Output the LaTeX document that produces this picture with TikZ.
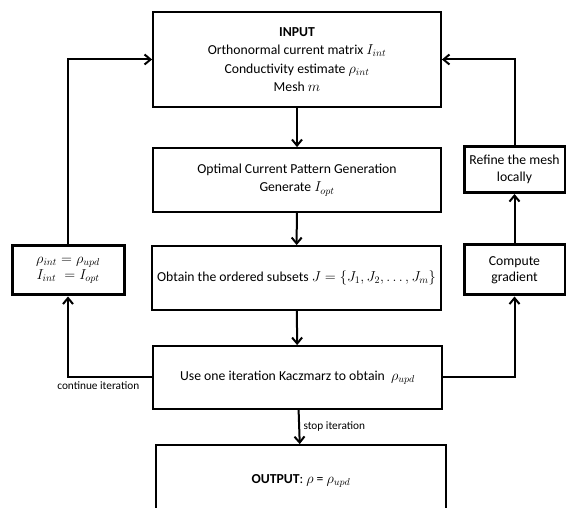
\documentclass[tikz,border=0pt]{standalone}
\usepackage{fontspec}
\setmainfont{Carlito}
\usetikzlibrary{arrows.meta}

\tikzset{
  stage/.style={draw, line width=1.8pt, align=center, font=\fontsize{13.7}{18.5}\selectfont, inner sep=0pt},
  sidebox/.style={draw, line width=3pt, align=center, font=\fontsize{13.7}{16.5}\selectfont, inner sep=0pt},
  flow/.style={-{Straight Barb[length=6pt, width=10pt]}, line width=2pt},
  note/.style={font=\fontsize{11.3}{13}\selectfont}
}

\begin{document}
\begin{tikzpicture}[auto, x=1pt, y=-1pt]
			\useasboundingbox (0, 0) rectangle (566, 508);

			\node[stage, minimum width=288pt, minimum height=95pt] (in) at (297, 59.5)
				{\textbf{INPUT}\\ Orthonormal current matrix $I_{int}$\\ Conductivity estimate $\rho_{int}$\\ Mesh $m$};
			\node[stage, minimum width=288pt, minimum height=64pt] (opt) at (297, 180)
				{Optimal Current Pattern Generation\\ Generate $I_{opt}$};
			\node[stage, minimum width=289pt, minimum height=64pt] (sub) at (296.5, 278)
				{Obtain the ordered subsets $J=\{J_1,J_2,\dots,J_m\}$};
			\node[stage, minimum width=289pt, minimum height=63pt] (kacz) at (297.5, 377.5)
				{Use one iteration Kaczmarz to obtain \ $\rho_{upd}$};
			\node[stage, minimum width=290pt, minimum height=72pt] (out) at (301, 481)
				{\textbf{OUTPUT}: $\rho$ = $\rho_{upd}$};

			\node[sidebox, minimum width=112pt, minimum height=49pt] (upd) at (68, 270.5)
				{$\rho_{int}=\rho_{upd}$\\ $I_{int}\;=I_{opt}$};
			\node[sidebox, minimum width=101pt, minimum height=46pt] (refine) at (514.5, 169.5)
				{Refine the mesh\\ locally};
			\node[sidebox, minimum width=101pt, minimum height=50pt] (grad) at (514.5, 270)
				{Compute\\ gradient};

			\draw[flow] (in) to (opt);
			\draw[flow] (opt) to (sub);
			\draw[flow] (sub) to (kacz);
			\draw[flow] (kacz) to node[note] {stop iteration} (out);

			\draw[flow] (kacz.west) -| node[note, pos=0.32] {continue iteration} (upd.south);
			\draw[flow] (upd.north) |- (in.west);

			\draw[flow] (kacz.east) -| (grad.south);
			\draw[flow] (grad) to (refine);
			\draw[flow] (refine.north) |- (in.east);
		\end{tikzpicture}
\end{document}
